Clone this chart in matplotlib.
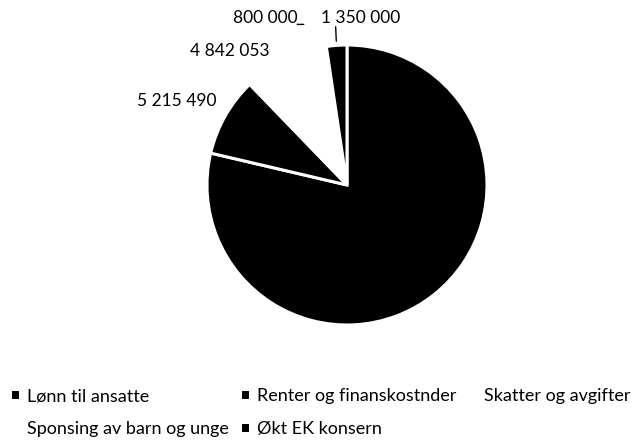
import matplotlib
matplotlib.use('Agg')
import matplotlib.pyplot as plt
import numpy as np

plt.rcParams['font.family'] = ['Lato', 'DejaVu Sans']

# poster (Lønn has no visible label in the original, value estimated from the slice)
categories = ['Lønn til ansatte', 'Renter og finanskostnder', 'Skatter og avgifter',
              'Sponsing av barn og unge', 'Økt EK konsern']
values = [45000000, 5215490, 4842053, 800000, 1350000]
colors = ['black', 'black', 'white', 'white', 'black']


def fmt(v):
    return '{:,}'.format(v).replace(',', ' ')


def main():
    W, H = 635, 445
    cx, cy, r = 347, 185, 140      # pie centre and radius in pixels (from top left)

    fig = plt.figure(figsize=(W / 100, H / 100), dpi=100)
    ax = fig.add_axes([0, 0, 1, 1])

    wedges, _ = ax.pie(values, colors=colors, startangle=90, counterclock=False,
                       wedgeprops=dict(edgecolor='white', linewidth=2.2))

    ax.set_xlim(-cx / r, (W - cx) / r)
    ax.set_ylim(-(H - cy) / r, cy / r)
    ax.set_aspect('equal')
    ax.axis('off')

    # data labels, placed like excel did it
    fs = 12.5
    ax.text(-1.214, 0.60, fmt(values[1]), ha='center', va='center', fontsize=fs)
    ax.text(-0.836, 0.957, fmt(values[2]), ha='center', va='center', fontsize=fs)
    t_sp = ax.text(-0.586, 1.193, fmt(values[3]), ha='center', va='center', fontsize=fs)
    t_ek = ax.text(0.10, 1.193, fmt(values[4]), ha='center', va='center', fontsize=fs)

    # leader lines
    w = wedges[4]
    mid = np.deg2rad((w.theta1 + w.theta2) / 2)
    ax.annotate('', xy=(np.cos(mid) * 1.03, np.sin(mid) * 1.03),
                xytext=(0.18, -0.05), textcoords=t_ek,
                arrowprops=dict(arrowstyle='-', color='black', lw=1.0,
                                shrinkA=0, shrinkB=0))
    ax.annotate('', xy=(1.0, 0.1), xycoords=t_sp, xytext=(1.1, 0.1), textcoords=t_sp,
                arrowprops=dict(arrowstyle='-', color='black', lw=1.0,
                                shrinkA=0, shrinkB=0))

    order = [0, 3, 1, 4, 2]
    ax.legend([wedges[i] for i in order], [categories[i] for i in order],
              ncol=3, loc='upper left', bbox_to_anchor=(10 / W, 1 - 388 / H),
              bbox_transform=fig.transFigure, frameon=False, fontsize=13,
              borderpad=0, borderaxespad=0, handlelength=0.55, handleheight=0.55,
              handletextpad=0.4, columnspacing=0.6, labelspacing=0.95)

    fig.savefig('out.png', dpi=100)


if __name__ == '__main__':
    main()
